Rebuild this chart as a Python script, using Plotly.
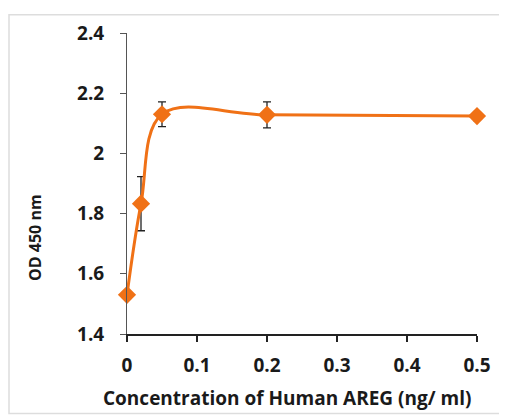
import plotly.graph_objects as go

conc = [0, 0.02, 0.05, 0.2, 0.5]
od = [1.53, 1.833, 2.13, 2.128, 2.124]
err = [0.0, 0.09, 0.041, 0.043, 0.015]
x_ticks = [0, 0.1, 0.2, 0.3, 0.4, 0.5]
x_labels = ["0", "0.1", "0.2", "0.3", "0.4", "0.5"]
y_ticks = [1.4, 1.6, 1.8, 2.0, 2.2, 2.4]
y_labels = ["1.4", "1.6", "1.8", "2", "2.2", "2.4"]

orange = "#F07116"
font_fam = "Open Sans, DejaVu Sans, sans-serif"
txt = "#1a1a1a"

# page has an 8px body margin; plot area in page coords: x 127..477, y 27..334
PW, PH = 350, 307

fig = go.Figure()
fig.add_trace(go.Scatter(
    x=conc, y=od,
    mode="lines+markers",
    line=dict(color=orange, width=3, shape="spline", smoothing=1.0),
    marker=dict(symbol="diamond", size=14, color=orange),
    error_y=dict(type="data", array=err, visible=True, color="#222222", thickness=1.3, width=4),
    cliponaxis=False,
    showlegend=False,
))

fig.update_layout(
    width=499, height=410,
    margin=dict(l=119, r=30, t=19, b=84),
    paper_bgcolor="white", plot_bgcolor="white",
    font=dict(family=font_fam, color=txt),
    xaxis=dict(
        range=[0, 0.5], tickvals=x_ticks, ticktext=x_labels,
        showgrid=False, zeroline=False,
        showline=True, linecolor="#222222", linewidth=2,
        ticks="outside", ticklen=6, tickcolor="#222222", tickwidth=1.5,
        tickfont=dict(size=19, family=font_fam, weight="bold", color=txt),
        ticklabelstandoff=7,
    ),
    yaxis=dict(
        range=[1.4, 2.4], tickvals=y_ticks, ticktext=y_labels,
        showgrid=False, zeroline=False,
        showline=True, linecolor="#555555", linewidth=1,
        ticks="outside", ticklen=6, tickcolor="#555555", tickwidth=1,
        tickfont=dict(size=19, family=font_fam, weight="bold", color=txt),
        ticklabelstandoff=12,
    ),
    annotations=[
        dict(text="Concentration of Human AREG (ng/ ml)", xref="paper", yref="paper",
             x=(287 - 127) / PW, y=-(399 - 334) / PH, xanchor="center", yanchor="middle",
             showarrow=False, font=dict(size=19, family=font_fam, weight="bold", color=txt)),
        dict(text="OD 450 nm", xref="paper", yref="paper",
             x=-(127 - 35) / PW, y=(334 - 236) / PH, xanchor="center", yanchor="middle",
             textangle=-90, showarrow=False,
             font=dict(size=16, family=font_fam, weight="bold", color=txt)),
    ],
    shapes=[
        dict(type="rect", xref="paper", yref="paper",
             x0=-(127 - 9) / PW, x1=1 + (500 - 477) / PW,
             y0=-(415 - 334) / PH, y1=1 + (27 - 8.5) / PH,
             line=dict(color="#dddddd", width=1.5), fillcolor="rgba(0,0,0,0)", layer="below"),
    ],
)

fig.write_html("out.html")
